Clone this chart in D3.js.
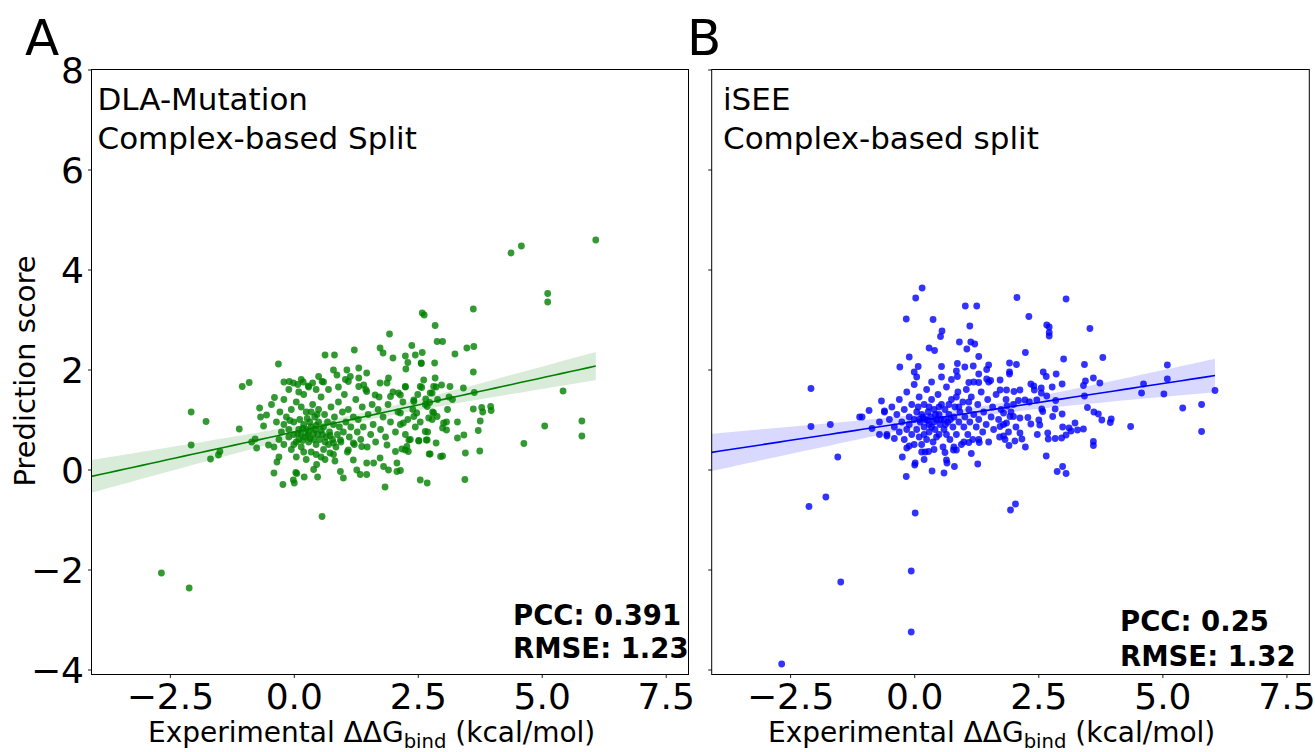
<!DOCTYPE html>
<html><head><meta charset="utf-8">
<script src="https://cdn.jsdelivr.net/npm/d3@7"></script>
<style>body{margin:0;background:#fff} svg{display:block} text{font-family:"DejaVu Sans",sans-serif}</style>
</head><body><svg id="c" width="1315" height="752"></svg>
<script>
const xTicks=[-2.5,0,2.5,5,7.5];
const yTicks=[-4,-2,0,2,4,6,8];
const xDomain=[-4.08,7.96];
const yDomain=[-4.1,8];
const panelLetters=["A","B"];
const panelTitles=[["DLA-Mutation","Complex-based Split"],["iSEE","Complex-based split"]];
const panelStats=[["PCC: 0.391","RMSE: 1.23"],["PCC: 0.25","RMSE: 1.32"]];
const panelColors=["#008000","#0000ff"];

const dlaPoints=[
[-2.67,-2.07],[-2.11,-2.37],[0.57,-0.94],
[-2.07,1.15],[-2.07,0.49],[-1.77,0.96],[-1.68,0.21],[-1.52,0.29],[-1.49,0.36],[-1.1,0.81],[-1.04,1.66],[-0.9,1.74],[-0.85,0.55],[-0.78,0.61],[-0.75,0.43],[-0.69,1.23],[-0.55,1.09],[-0.67,1.05],[-0.61,0.87],[-0.51,0.49],[-0.39,1.44],[-0.4,-0.07],[-0.34,0.15],[-0.31,2.11],
[-0.22,-0.3],[-0.01,-0.21],[0.01,-0.27],[0.04,-0.06],[0.06,-0.08],[0.21,-0.15],[0.48,-0.15],
[-0.09,1.76],[-0.01,1.73],[0.08,1.7],[0.19,1.75],[0.29,1.67],[0.38,1.73],[0.5,1.86],[0.57,1.76],
[0.63,2.29],[0.82,2.29],[1.22,2.39],[1.31,2.03],[1.47,1.93],[1.31,1.83],[1.04,1.8],[1.1,1.76],
[1.74,2.43],[1.8,2.33],[2.0,2.23],[1.93,2.71],[2.25,2.27],[2.3,2.14],[2.38,2.48],[2.45,2.29],[2.59,2.34],[2.57,2.13],[2.26,2.01],[2.59,3.13],[2.63,3.09],[2.85,2.88],[2.89,2.56],[2.84,2.13],
[0.8,1.99],[0.87,1.89],[1.07,1.99],[1.14,1.86],[1.31,1.66],[1.41,1.69],[1.47,1.56],[1.64,1.49],[1.74,1.73],[1.88,1.73],[1.91,1.83],[1.95,1.46],[2.11,1.53],[2.25,1.66],[2.42,1.39],[2.55,1.66],[2.62,1.79],[2.75,1.53],[2.82,1.66],[2.85,1.83],
[0.8,0.53],[0.94,0.59],[1.1,0.39],[1.2,0.53],[1.37,0.46],[1.47,0.13],[1.34,-0.1],[1.47,-0.1],[1.61,0.13],[1.74,0.23],[1.88,0.49],[2.05,0.36],[2.08,0.13],[1.81,0.06],[1.91,-0.01],[2.08,-0.04],[1.84,-0.35],[2.32,0.59],[2.52,0.57],[2.69,0.59],[2.75,0.31],[2.55,-0.21],[2.69,-0.27],[2.96,0.26],[1.0,-0.17],[0.94,-0.04],[1.2,0.19],[1.27,-0.01],[0.73,0.33],[0.63,0.2],[0.46,0.1],[0.4,0],[0.83,0.17],
[6.09,4.59],[4.38,4.33],[4.59,4.47],[5.12,3.52],[5.12,3.35],[3.62,3.21],[3.0,2.56],[2.57,2.12],[3.25,2.31],[3.49,2.43],[3.63,2.46],[3.62,1.95],
[2.15,1.49],[2.25,1.65],[2.42,1.36],[2.58,1.64],[2.66,1.41],[2.74,1.34],[2.79,1.53],[2.87,1.65],[2.98,1.69],[3.15,1.66],[3.13,1.45],[3.42,1.63],[3.64,1.54],
[3.62,1.21],[3.79,1.24],[3.81,1.15],[3.97,1.26],[3.98,1.18],[3.76,0.97],[3.72,0.78],[3.75,0.37],[3.46,0.33],[3.43,0.69],[3.3,0.63],[3.08,0.79],[3.0,0.83],[3.02,0.93],[3.08,0.95],[2.87,0.53],[2.73,0.31],[3.0,0.27],[3.45,-0.2],[4.64,0.52],[5.06,0.87],[5.43,1.57],[5.81,0.97],[5.81,0.67],
[2.15,1.13],[2.21,0.93],[2.28,0.46],[2.31,0.36],[2.42,1.06],[2.48,1.13],[2.69,1.26],[2.72,1.03],[2.79,1.0],[2.82,1.13],[2.89,1.06],[2.65,0.76],[2.67,0.59],[2.52,0.58],[2.35,0.6],[2.25,0.39],[2.18,0.41],[2.15,-0.02],
[-0.3,0.6],[-0.25,0.75],[-0.2,0.9],[-0.2,0.5],[-0.15,1.05],[-0.1,0.65],[-0.1,0.8],[-0.05,1.2],[-0.05,0.4],[0,0.7],[0,0.95],[0.05,0.55],[0.05,1.35],[0.1,0.8],[0.1,0.6],[0.12,1.0],[0.15,0.45],[0.15,0.7],[0.2,0.9],[0.2,1.5],[0.22,0.65],[0.25,0.8],[0.25,1.15],[0.3,0.55],[0.3,0.75],[0.32,0.95],[0.35,0.35],[0.35,0.85],[0.38,1.3],[0.4,0.6],[0.4,0.72],[0.42,1.05],[0.45,0.5],[0.45,0.88],[0.48,0.7],[0.5,1.2],[0.5,0.95],[0.52,0.6],[0.55,0.78],[0.55,1.45],[0.6,0.4],[0.6,0.85],[0.62,1.1],[0.65,0.65],[0.68,0.95],[0.7,0.5],[0.7,1.6],[0.72,0.75],[0.75,1.25],[0.78,0.6],[0.8,0.9],[0.82,1.05],[0.85,0.45],[0.88,0.7],[0.9,1.35],[0.92,0.85],[0.95,0.55],[0.98,1.15],[1.0,0.75],[1.02,1.5],[1.05,0.95],[1.08,0.35],[1.1,1.2],[1.12,0.65],[1.15,0.85],[1.2,1.05],[1.22,0.5],[1.25,1.4],[1.28,0.75],[1.3,1.0],[1.35,0.6],[1.38,1.25],[1.4,0.85],[1.45,1.6],[1.48,0.45],[1.5,1.1],[1.55,0.7],[1.58,1.3],[1.6,0.9],[1.65,0.55],[1.7,1.2],[1.72,1.45],[1.75,0.8],[1.8,1.05],[1.85,0.65],[1.9,1.3],[1.95,0.95],[2.0,1.55],[2.05,0.75],[2.1,1.15],[2.15,0.9],[2.2,1.35],[2.25,0.7],[2.3,1.0],[2.4,1.2],[2.45,0.85],[2.5,1.5],[2.55,0.95],[2.65,1.3],[2.7,0.75],[2.8,1.15],[2.9,1.4],[3.1,1.2],[3.2,1.4],[3.3,0.95],
[0.0,0.5],[0.08,0.72],[0.18,0.58],[0.28,0.68],[0.33,0.62],[0.43,0.8],[0.58,0.7],[0.63,0.55],[0.73,0.68],[0.18,0.82],[-0.08,0.98],[0.27,1.02],[0.47,1.1],[0.15,1.25],[0.35,1.15],[-0.28,1.15],[-0.35,0.95],[-0.4,0.45],[-0.3,0.25],[0.05,0.25],[0.25,0.2],[0.55,0.25],[0.8,0.3],[0.2,0.35],[0.45,0.3],[-0.45,1.3],[-0.2,1.4],[0.1,1.55],[0.3,1.65],[0.6,1.75],[0.9,1.65],[0.45,1.6],[-0.1,1.6],[-0.2,1.75],[0.15,1.8]
];

const iseePoints=[
[-2.67,-3.89],[-2.12,-0.74],[-1.78,-0.55],[0.02,-0.87],[-0.06,-2.03],[-1.48,-2.25],[-0.06,-3.25],
[-2.08,1.62],[-2.08,0.86],[-1.69,0.9],[-1.54,0.25],[-1.1,1.05],[-1.05,1.05],[-0.91,1.18],[-0.66,1.37],[-0.6,1.17],[-0.85,0.82],[-0.7,0.7],[-0.55,0.67],[-0.4,0.62],[-0.24,0.25],[-0.16,-0.14],
[0.16,3.63],[0.03,3.43],[-0.16,3.01],[0.38,3.0],[0.56,2.77],[0.53,2.66],[1.03,3.27],[1.26,3.27],[1.12,2.87],[0.91,2.55],[1.14,2.55],[1.22,2.51],[1.06,2.41],[0.3,2.43],[0.41,2.38],[-0.1,2.25],[-0.29,2.05],[0.08,2.06],[0,1.95],[0.05,1.85],[0.55,2.06],[0.87,2.12],[0.85,1.97],[0.87,1.86],[1.02,2.05],[1.19,2.07],[1.3,2.26],[1.5,2.09],[1.46,2.0],[1.3,1.91],[1.3,1.74],[1.1,1.74],[1.46,1.81],[1.54,1.78],[1.73,1.79],[1.92,2.13],[1.92,1.95],[2.06,2.1],[2.07,3.44],
[0.02,0.13],[0.01,0.09],[0.2,0.2],[0.36,-0.03],[0.6,-0.07],[0.65,0.19],[0.66,0.13],[0.81,0.06],[1.28,0.11],[1.15,0.32],[0.79,0.39],[0.85,0.39],[0.22,0.35],[0.29,0.36],[-0.15,0.43],[-0.1,0.47],[0.62,0.34],[1.1,0.54],[1.31,0.54],[1.94,-0.81],[2.04,-0.69],
[3.06,3.41],[2.31,3.06],[2.67,2.89],[2.72,2.85],[2.72,2.74],[2.72,2.67],[3.54,2.82],[2.24,2.34],[3.01,2.21],[3.8,2.24],[1.92,1.91],[3.43,2.1],[2.6,1.95],[2.66,1.86],[2.86,1.91],[3.45,1.77],[3.41,1.68],[3.61,1.83],[3.74,1.73],[2.98,1.71],[2.78,1.65],[2.35,1.71],[2.41,1.67],[2.42,1.59],[2.56,1.63],[2.56,1.53],[2.67,1.47],[3.43,1.47],[4.62,1.71],[5.1,2.09],[5.1,1.81],[4.58,1.53],[5.03,1.51],[6.06,1.58],[5.41,1.23],[5.79,1.3],[5.79,0.76],[4.36,0.86],[2.85,1.38],[3.49,1.24],[3.62,1.15],[3.71,1.11],[3.78,0.99],[3.97,1.01],[3.95,0.94],[2.84,1.21],[2.79,1.06],[2.98,1.11],[3.24,0.93],[3.12,0.83],[2.99,0.85],[3.41,0.81],[3.29,0.79],[3.61,0.56],[3.61,0.48],[2.69,0.73],[2.7,0.61],[2.84,0.62],[2.97,0.63],[3.06,0.69],[3.16,0.77],[2.48,0.7],[2.66,0.27],[2.99,0.06],[2.88,-0.04],[3.06,-0.08],[2.24,0.45],[2.13,0.73],[2.17,0.61],[2.03,0.57],[1.91,0.48],[2.35,0.91],[2.53,0.89],[2.51,0.99],[2.29,1.04],[2.13,1.03],[2.0,1.06],[2.1,1.38],[2.23,1.39],[2.32,1.35],[2.47,1.39],[2.57,1.21],[2.59,1.16],[1.87,1.27],[1.8,1.13],[1.86,0.93],[1.93,1.06],[1.8,0.67],[1.83,0.6],[1.73,0.86],[1.73,1.59],[1.86,1.59],[2.01,1.56],[2.13,1.59],
[-0.5,1.0],[-0.45,1.25],[-0.4,0.85],[-0.35,1.1],[-0.3,0.75],[-0.3,1.4],[-0.25,0.95],[-0.2,1.2],[-0.2,0.6],[-0.15,1.55],[-0.1,0.9],[-0.1,1.05],[-0.05,0.7],[-0.05,1.3],[0,1.0],[0,0.5],[0.05,1.15],[0.05,0.8],[0.1,1.45],[0.1,0.65],[0.12,0.95],[0.15,1.1],[0.15,0.35],[0.2,0.85],[0.2,1.3],[0.22,1.0],[0.25,0.6],[0.25,1.6],[0.28,1.15],[0.3,0.9],[0.3,0.75],[0.33,1.05],[0.35,1.4],[0.38,0.55],[0.4,0.95],[0.4,1.2],[0.42,0.8],[0.45,1.0],[0.48,1.5],[0.5,0.7],[0.5,1.1],[0.52,0.9],[0.55,1.3],[0.58,0.45],[0.6,1.0],[0.6,0.8],[0.62,1.2],[0.65,1.65],[0.68,0.95],[0.7,1.1],[0.72,0.6],[0.75,1.4],[0.78,0.85],[0.8,1.05],[0.82,1.25],[0.85,0.7],[0.88,1.55],[0.9,0.95],[0.92,1.15],[0.95,0.5],[0.98,1.35],[1.0,0.85],[1.02,1.05],[1.05,1.6],[1.08,0.7],[1.1,1.2],[1.12,0.95],[1.15,1.45],[1.18,0.6],[1.2,1.1],[1.25,0.85],[1.28,1.3],[1.3,1.0],[1.35,1.55],[1.38,0.75],[1.4,1.15],[1.45,0.9],[1.48,1.4],[1.5,0.55],[1.55,1.05],[1.58,1.25],[1.6,0.8],[1.65,1.5],[1.7,1.0],[1.72,0.65],[1.75,1.2],[1.8,0.9],[1.85,1.4],[1.9,0.75],[1.95,1.15],[2.0,1.3],[2.05,0.85],
[0.1,1.0],[0.18,1.05],[0.27,0.98],[0.35,0.85],[0.43,1.1],[0.53,1.0],[0.63,0.9],[0.73,1.0],[0.3,1.25],[0.5,1.25],[0.7,1.3],[0.2,0.7],[0.45,0.65],[0.65,0.7],[0.08,1.25],[-0.15,0.8],[0.9,1.25],[1.1,1.35],[0.85,1.45],[-0.6,1.15],[-0.7,0.95],[-0.55,0.7],[0.0,1.7],[0.35,1.75],[0.75,1.8],[1.2,1.75],[1.5,1.75],[0.55,1.85],[0.15,0.5],[1.0,0.55],[1.3,0.6],[0.4,0.4],[0.8,0.45]
];

const panels=[
  {points:dlaPoints,left:91.5,right:688.5,letterX:25,labelX:148,titleX:97.5,statX:513,statY:[625,658]},
  {points:iseePoints,left:711.7,right:1309.3,letterX:687,labelX:768,titleX:723,statX:1120,statY:[631,666]}
];
const plotTop=69.5,plotBottom=674.5;
const svg=d3.select("#c");

function fit(pts){
  const n=pts.length;
  const mx=d3.mean(pts,d=>d[0]), my=d3.mean(pts,d=>d[1]);
  let sxx=0,sxy=0;
  pts.forEach(d=>{sxx+=(d[0]-mx)**2;sxy+=(d[0]-mx)*(d[1]-my);});
  const b=sxy/sxx,a=my-b*mx;
  let ssr=0; pts.forEach(d=>{ssr+=(d[1]-a-b*d[0])**2;});
  const s=Math.sqrt(ssr/(n-2));
  return {a,b,s,n,mx,sxx};
}

panels.forEach((p,i)=>{
  const x=d3.scaleLinear().domain(xDomain).range([p.left,p.right]);
  const y=d3.scaleLinear().domain(yDomain).range([plotBottom,plotTop]);
  const g=svg.append("g");
  const col=panelColors[i];

  g.append("g").selectAll("circle").data(p.points).join("circle")
    .attr("cx",d=>x(d[0])).attr("cy",d=>y(d[1])).attr("r",3.4)
    .attr("fill",col).attr("fill-opacity",0.8);

  const f=fit(p.points);
  const xmax=d3.max(p.points,d=>d[0]);
  const xs=d3.range(61).map(k=>xDomain[0]+(xmax-xDomain[0])*k/60);
  const tcrit=1.97;
  const band=xs.map(v=>{
    const yh=f.a+f.b*v;
    const h=tcrit*f.s*Math.sqrt(1/f.n+(v-f.mx)**2/f.sxx);
    return [v,yh-h,yh+h,yh];
  });
  g.append("path").datum(band)
    .attr("d",d3.area().x(d=>x(d[0])).y0(d=>y(d[1])).y1(d=>y(d[2])))
    .attr("fill",col).attr("fill-opacity",0.15);
  g.append("path").datum(band)
    .attr("d",d3.line().x(d=>x(d[0])).y(d=>y(d[3])))
    .attr("fill","none").attr("stroke",col).attr("stroke-width",1.6);

  const xa=g.append("g").attr("transform",`translate(0,${plotBottom})`)
    .call(d3.axisBottom(x).tickValues(xTicks).tickFormat(d3.format(".1f")).tickSize(3.5).tickPadding(5));
  xa.select(".domain").remove();
  xa.selectAll("text").attr("font-size",36).attr("font-family","DejaVu Sans").attr("fill","#000");
  xa.selectAll("line").attr("stroke","#000").attr("stroke-width",0.9);

  const ya=g.append("g").attr("transform",`translate(${p.left},0)`)
    .call(d3.axisLeft(y).tickValues(yTicks).tickFormat(i===0?d3.format("d"):()=>"").tickSize(3.5).tickPadding(4));
  ya.select(".domain").remove();
  ya.selectAll("text").attr("font-size",36).attr("font-family","DejaVu Sans").attr("fill","#000").attr("dy","0.37em");
  ya.selectAll("line").attr("stroke","#000").attr("stroke-width",0.9);

  g.append("rect").attr("x",p.left).attr("y",plotTop).attr("width",p.right-p.left).attr("height",plotBottom-plotTop)
    .attr("fill","none").attr("stroke","#000").attr("stroke-width",1);

  const tt=g.append("text").attr("font-size",31).attr("fill","#000");
  panelTitles[i].forEach((s,k)=>tt.append("tspan").attr("x",p.titleX).attr("y",110+k*38.5).text(s));

  const st=g.append("text").attr("font-size",27.5).attr("font-weight","bold").attr("fill","#000");
  panelStats[i].forEach((s,k)=>st.append("tspan").attr("x",p.statX).attr("y",p.statY[k]).text(s));

  const xl=g.append("text").attr("x",p.labelX).attr("y",742).attr("font-size",28).attr("fill","#000");
  xl.append("tspan").text("Experimental ΔΔG");
  xl.append("tspan").attr("font-size",19.6).attr("dy",6).text("bind");
  xl.append("tspan").attr("dy",-6).text(" (kcal/mol)");

  g.append("text").attr("x",p.letterX).attr("y",55).attr("font-size",50).attr("fill","#000").text(panelLetters[i]);
});

svg.append("text").attr("transform","translate(35,371) rotate(-90)").attr("text-anchor","middle")
  .attr("font-size",29).attr("fill","#000").text("Prediction score");
</script></body></html>
